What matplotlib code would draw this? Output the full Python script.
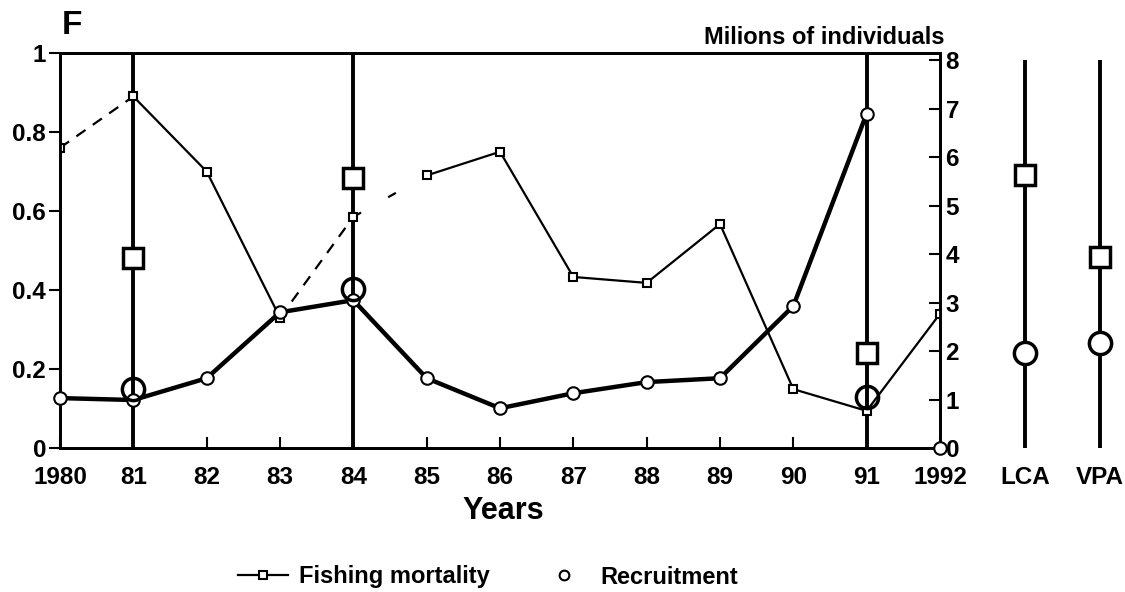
import numpy as np
import matplotlib.pyplot as plt
from matplotlib.lines import Line2D

plt.rcParams['font.family'] = ['Liberation Sans', 'DejaVu Sans']
plt.rcParams['font.weight'] = 'bold'

years = [1980, 1981, 1982, 1983, 1984, 1985, 1986, 1987, 1988, 1989, 1990, 1991, 1992]
year_labels = ['1980', '81', '82', '83', '84', '85', '86', '87', '88', '89', '90', '91', '1992']

# fishing mortality F (left axis)
fishing = [0.76, 0.89, 0.70, 0.33, 0.585, 0.69, 0.75, 0.433, 0.418, 0.567, 0.149, 0.094, 0.34]
# segments drawn dashed (index of start point)
dashed_segments = [0, 3, 4]

# recruitment, millions of individuals (right axis)
recruitment = [1.03, 0.99, 1.44, 2.80, 3.05, 1.44, 0.82, 1.13, 1.36, 1.44, 2.93, 6.9, 0.0]

# reference years with separate estimates
ref_years = [1981, 1984, 1991]
ref_fishing = [0.48, 0.684, 0.24]
ref_recruitment = [1.22, 3.28, 1.05]

# LCA / VPA estimates
methods = ['LCA', 'VPA']
method_fishing = [0.691, 0.484]
method_recruitment = [1.96, 2.16]

fig = plt.figure(figsize=(11.25, 5.92), dpi=100)
W, H = 1125, 592
ax = fig.add_axes([60 / W, 1 - 448 / H, 880 / W, 395 / H])
ax2 = ax.twinx()

ax.set_xlim(1980, 1992)
ax.set_ylim(0, 1)
ax2.set_ylim(0, 8.15)

for y in ref_years:
    ax.axvline(y, color='black', lw=2.8, zorder=1)

# fishing mortality line, solid and dashed pieces
for i in range(len(years) - 1):
    style = (0, (5, 4)) if i in dashed_segments else '-'
    if i == 4:
        style = (0, (4, 14))
    ax.plot(years[i:i + 2], fishing[i:i + 2], color='black', lw=1.6, ls=style, zorder=2)
ax.plot(years, fishing, ls='none', marker='s', ms=6, mfc='white', mec='black', mew=1.5, zorder=4)
ax.plot(ref_years, ref_fishing, ls='none', marker='s', ms=14, mfc='white', mec='black', mew=2.5, zorder=4)

# recruitment
ax2.plot(years[:-1], recruitment[:-1], color='black', lw=3.2, zorder=3)
ax2.plot(years, recruitment, ls='none', marker='o', ms=9, mfc='white', mec='black', mew=1.5,
         zorder=4, clip_on=False)
ax2.plot(ref_years, ref_recruitment, ls='none', marker='o', ms=16, mfc='none', mec='black', mew=2.5, zorder=4)

ax.set_xticks(years)
ax.set_xticklabels(year_labels)
ax.set_yticks([0, 0.2, 0.4, 0.6, 0.8, 1])
ax.set_yticklabels(['0', '0.2', '0.4', '0.6', '0.8', '1'])
ax2.set_yticks(range(0, 9))

ax.tick_params(axis='x', direction='in', length=8, width=1.5, labelsize=17.5, pad=13)
ax.tick_params(axis='y', direction='out', length=8, width=1.5, labelsize=17.5, pad=2)
ax2.tick_params(axis='y', direction='in', length=8, width=1.5, labelsize=17.5, pad=4)
for a in (ax, ax2):
    for s in a.spines.values():
        s.set_linewidth(2)

# LCA / VPA columns
ax3 = fig.add_axes([995 / W, 1 - 448 / H, 130 / W, 395 / H])
ax3.set_xlim(-0.4, 1.333)
ax3.set_ylim(0, 1)
ax4 = ax3.twinx()
ax4.set_ylim(0, 8.15)
for a in (ax3, ax4):
    for s in a.spines.values():
        s.set_visible(False)
    a.set_yticks([])
xs = np.arange(len(methods))
ax4.vlines(xs, 0, 8, color='black', lw=2.8)
ax3.plot(xs, method_fishing, ls='none', marker='s', ms=14, mfc='white', mec='black', mew=2.5, zorder=4)
ax4.plot(xs, method_recruitment, ls='none', marker='o', ms=16, mfc='white', mec='black', mew=2.5, zorder=4)
ax3.set_xticks(xs)
ax3.set_xticklabels(methods)
ax3.tick_params(axis='x', length=0, labelsize=17.5, pad=13)
ax3.set_zorder(ax4.get_zorder() + 1)
ax3.patch.set_visible(False)

fig.text(62 / W, 1 - 25 / H, 'F', fontsize=24, fontweight='bold', ha='left', va='center')
fig.text(945 / W, 1 - 38 / H, 'Milions of individuals', fontsize=17, fontweight='bold',
         ha='right', va='center')
fig.text(503 / W, 1 - 511 / H, 'Years', fontsize=22, fontweight='bold', ha='center', va='center')

handles = [Line2D([], [], color='black', lw=1.6, marker='s', ms=6, mfc='white', mec='black', mew=1.5),
           Line2D([], [], ls='none', marker='o', ms=7, mfc='white', mec='black', mew=1.5)]
fig.legend(handles, ['Fishing mortality', 'Recruitment'], loc='center', ncol=2,
           bbox_to_anchor=(488 / W, 1 - 577 / H), frameon=False, handlelength=2.1,
           handletextpad=0.47, columnspacing=2.1, prop={'size': 17, 'weight': 'bold'})

fig.savefig('out.png', dpi=100)
